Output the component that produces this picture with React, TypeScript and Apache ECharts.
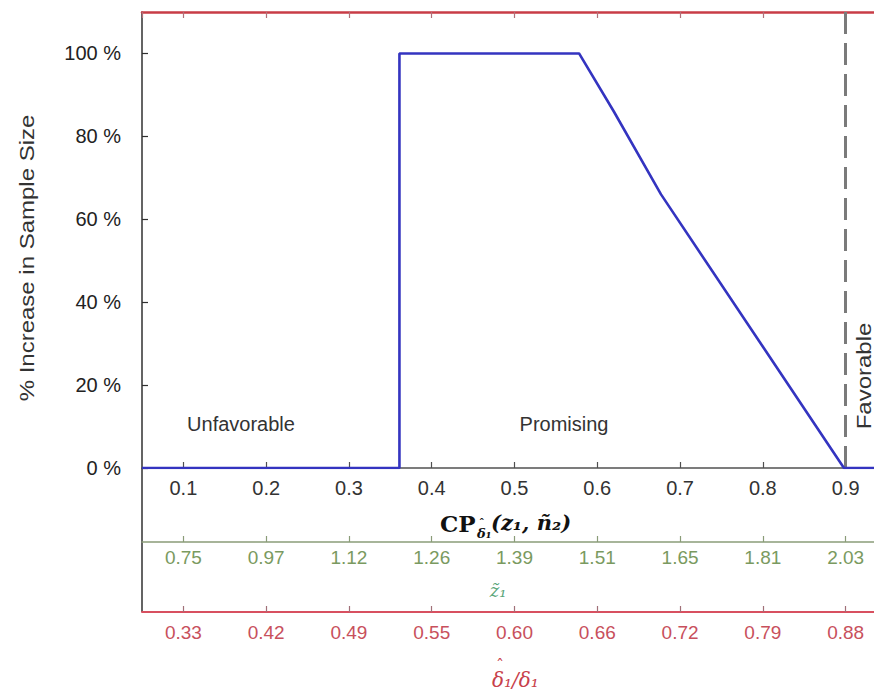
import React, { useEffect, useRef } from "react";
import * as echarts from "echarts";

// ---- data ----
const cpValues = [0.05, 0.361, 0.361, 0.578, 0.62, 0.677, 0.898, 0.95];
const increasePct = [0, 0, 100, 100, 86, 66, 0, 0];
const cpTickLabels = ["0.1", "0.2", "0.3", "0.4", "0.5", "0.6", "0.7", "0.8", "0.9"];
const z1TickLabels = ["0.75", "0.97", "1.12", "1.26", "1.39", "1.51", "1.65", "1.81", "2.03"];
const ratioTickLabels = ["0.33", "0.42", "0.49", "0.55", "0.60", "0.66", "0.72", "0.79", "0.88"];
const favorableThreshold = 0.9;
const zoneLabels = ["Unfavorable", "Promising", "Favorable"];

const SANS = "Liberation Sans, Arial, sans-serif";
const SERIF = "DejaVu Serif, Liberation Serif, serif";
const RED = "#c83c46";
const RED_LABEL = "#c8505c";
const GREEN_LINE = "#8a9c78";
const GREEN_LABEL = "#7a9a60";

function labelFrom(arr: string[]) {
  return (v: number) => {
    const k = Math.round(v * 10);
    if (Math.abs(v * 10 - k) > 1e-6) return "";
    const i = k - 1;
    return i >= 0 && i < arr.length ? arr[i] : "";
  };
}

export default function App() {
  const ref = useRef<HTMLDivElement>(null);
  useEffect(() => {
    if (!ref.current) return;
    const chart = echarts.init(ref.current, null, { renderer: "svg" });
    const baseX = {
      type: "value",
      min: 0.05,
      max: 0.95,
      splitNumber: 9,
      splitLine: { show: false },
    };
    const option: any = {
      animation: false,
      backgroundColor: "#ffffff",
      grid: { left: 142, top: 12, width: 745, height: 456, outerBoundsMode: "none", containLabel: false },
      xAxis: [
        {
          ...baseX,
          position: "bottom",
          axisLine: { lineStyle: { color: "#505050", width: 1.5 } },
          axisTick: { inside: true, length: 6, lineStyle: { color: "#505050", width: 1.2 } },
          axisLabel: {
            fontSize: 20, fontFamily: SANS, color: "#333", margin: 10,
            showMinLabel: false, showMaxLabel: false, formatter: labelFrom(cpTickLabels),
          },
        },
        {
          ...baseX,
          position: "top",
          axisLine: { lineStyle: { color: RED, width: 2.5 } },
          axisTick: { inside: true, length: 6, lineStyle: { color: "#b07078", width: 1.2 } },
          axisLabel: { show: false },
        },
        {
          ...baseX,
          position: "bottom",
          offset: 74,
          axisLine: { lineStyle: { color: GREEN_LINE, width: 1.5 } },
          axisTick: { inside: true, length: 6, lineStyle: { color: GREEN_LINE, width: 1.2 } },
          axisLabel: {
            fontSize: 19, fontFamily: SANS, color: GREEN_LABEL, margin: 6,
            showMinLabel: false, showMaxLabel: false, formatter: labelFrom(z1TickLabels),
          },
        },
        {
          ...baseX,
          position: "bottom",
          offset: 144,
          axisLine: { lineStyle: { color: "#d85060", width: 2 } },
          axisTick: { inside: true, length: 6, lineStyle: { color: "#a07078", width: 1.2 } },
          axisLabel: {
            fontSize: 19, fontFamily: SANS, color: RED_LABEL, margin: 11,
            showMinLabel: false, showMaxLabel: false, formatter: labelFrom(ratioTickLabels),
          },
        },
      ],
      yAxis: {
        type: "value",
        min: 0,
        max: 110,
        interval: 20,
        splitLine: { show: false },
        axisLine: { show: true, lineStyle: { color: "#303030", width: 1.5 } },
        axisTick: { show: true, inside: true, length: 6, lineStyle: { color: "#303030", width: 1.2 } },
        axisLabel: {
          fontSize: 20, fontFamily: SANS, color: "#222", margin: 21,
          showMaxLabel: false,
          formatter: (v: number) => (v > 100 ? "" : `${v} %`),
        },
      },
      series: [
        {
          type: "line",
          xAxisIndex: 0,
          yAxisIndex: 0,
          data: cpValues.map((x, i) => [x, increasePct[i]]),
          showSymbol: false,
          symbol: "none",
          lineStyle: { color: "#3434c0", width: 2.6 },
          z: 5,
          markLine: {
            silent: true,
            symbol: "none",
            label: { show: false },
            lineStyle: { color: "#7a7a7a", width: 3, type: [22, 9] },
            data: [{ xAxis: favorableThreshold }],
            z: 3,
          },
        },
      ],
      graphic: [
        {
          type: "line",
          shape: { x1: 142, y1: 468, x2: 142, y2: 612 },
          style: { stroke: "#303030", lineWidth: 1.5 },
        },
        {
          type: "text",
          x: 27,
          y: 258,
          rotation: Math.PI / 2,
          scaleX: 1.2,
          style: {
            text: "% Increase in Sample Size",
            fontSize: 20, fontFamily: SANS, fill: "#333",
            align: "center", verticalAlign: "middle",
          },
        },
        {
          type: "text",
          x: 241,
          y: 424,
          style: {
            text: zoneLabels[0], fontSize: 20, fontFamily: SANS, fill: "#333",
            align: "center", verticalAlign: "middle",
          },
        },
        {
          type: "text",
          x: 564,
          y: 424,
          style: {
            text: zoneLabels[1], fontSize: 20, fontFamily: SANS, fill: "#333",
            align: "center", verticalAlign: "middle",
          },
        },
        {
          type: "text",
          x: 864,
          y: 376,
          rotation: Math.PI / 2,
          scaleX: 1.2,
          style: {
            text: zoneLabels[2], fontSize: 20, fontFamily: SANS, fill: "#333",
            align: "center", verticalAlign: "middle",
          },
        },
        {
          type: "text",
          x: 440,
          y: 523,
          style: {
            text: "CP", fontSize: 23, fontWeight: "bold", fontFamily: SERIF, fill: "#111",
            align: "left", verticalAlign: "middle",
          },
        },
        {
          type: "text",
          x: 477,
          y: 530,
          style: {
            text: "{h|\u02C6}\n{s|δ\u2081}",
            fontFamily: SERIF, fill: "#111", align: "left", verticalAlign: "middle",
            rich: {
              h: { fontSize: 11, fontWeight: "bold", lineHeight: 6, padding: [0, 0, 0, 2], fontFamily: SERIF, fill: "#111" },
              s: { fontSize: 13, fontWeight: "bold", fontStyle: "italic", lineHeight: 14, fontFamily: SERIF, fill: "#111" },
            },
          },
        },
        {
          type: "text",
          x: 491,
          y: 522,
          style: {
            text: "(z\u2081, n\u0303\u2082)", fontSize: 21, fontWeight: "bold", fontStyle: "italic",
            fontFamily: SERIF, fill: "#111", align: "left", verticalAlign: "middle",
          },
        },
        {
          type: "text",
          x: 498,
          y: 590,
          style: {
            text: "z\u0303\u2081", fontSize: 18, fontStyle: "italic", fontFamily: SERIF,
            fill: "#5aa67a", align: "center", verticalAlign: "middle",
          },
        },
        {
          type: "text",
          x: 492,
          y: 676,
          style: {
            text: "{h|\u02C6}\n{m|δ\u2081/δ\u2081}",
            fontFamily: SERIF, fill: "#c8404a", align: "left", verticalAlign: "middle",
            rich: {
              h: { fontSize: 16, lineHeight: 8, padding: [0, 0, 0, 4], fontFamily: SERIF, fill: "#c8404a" },
              m: { fontSize: 20, fontStyle: "italic", lineHeight: 22, fontFamily: SERIF, fill: "#c8404a" },
            },
          },
        },
      ],
    };
    chart.setOption(option);
    return () => chart.dispose();
  }, []);
  return (
    <div
      ref={ref}
      style={{ position: "absolute", left: 0, top: 0, width: 874, height: 692, background: "#fff" }}
    />
  );
}
